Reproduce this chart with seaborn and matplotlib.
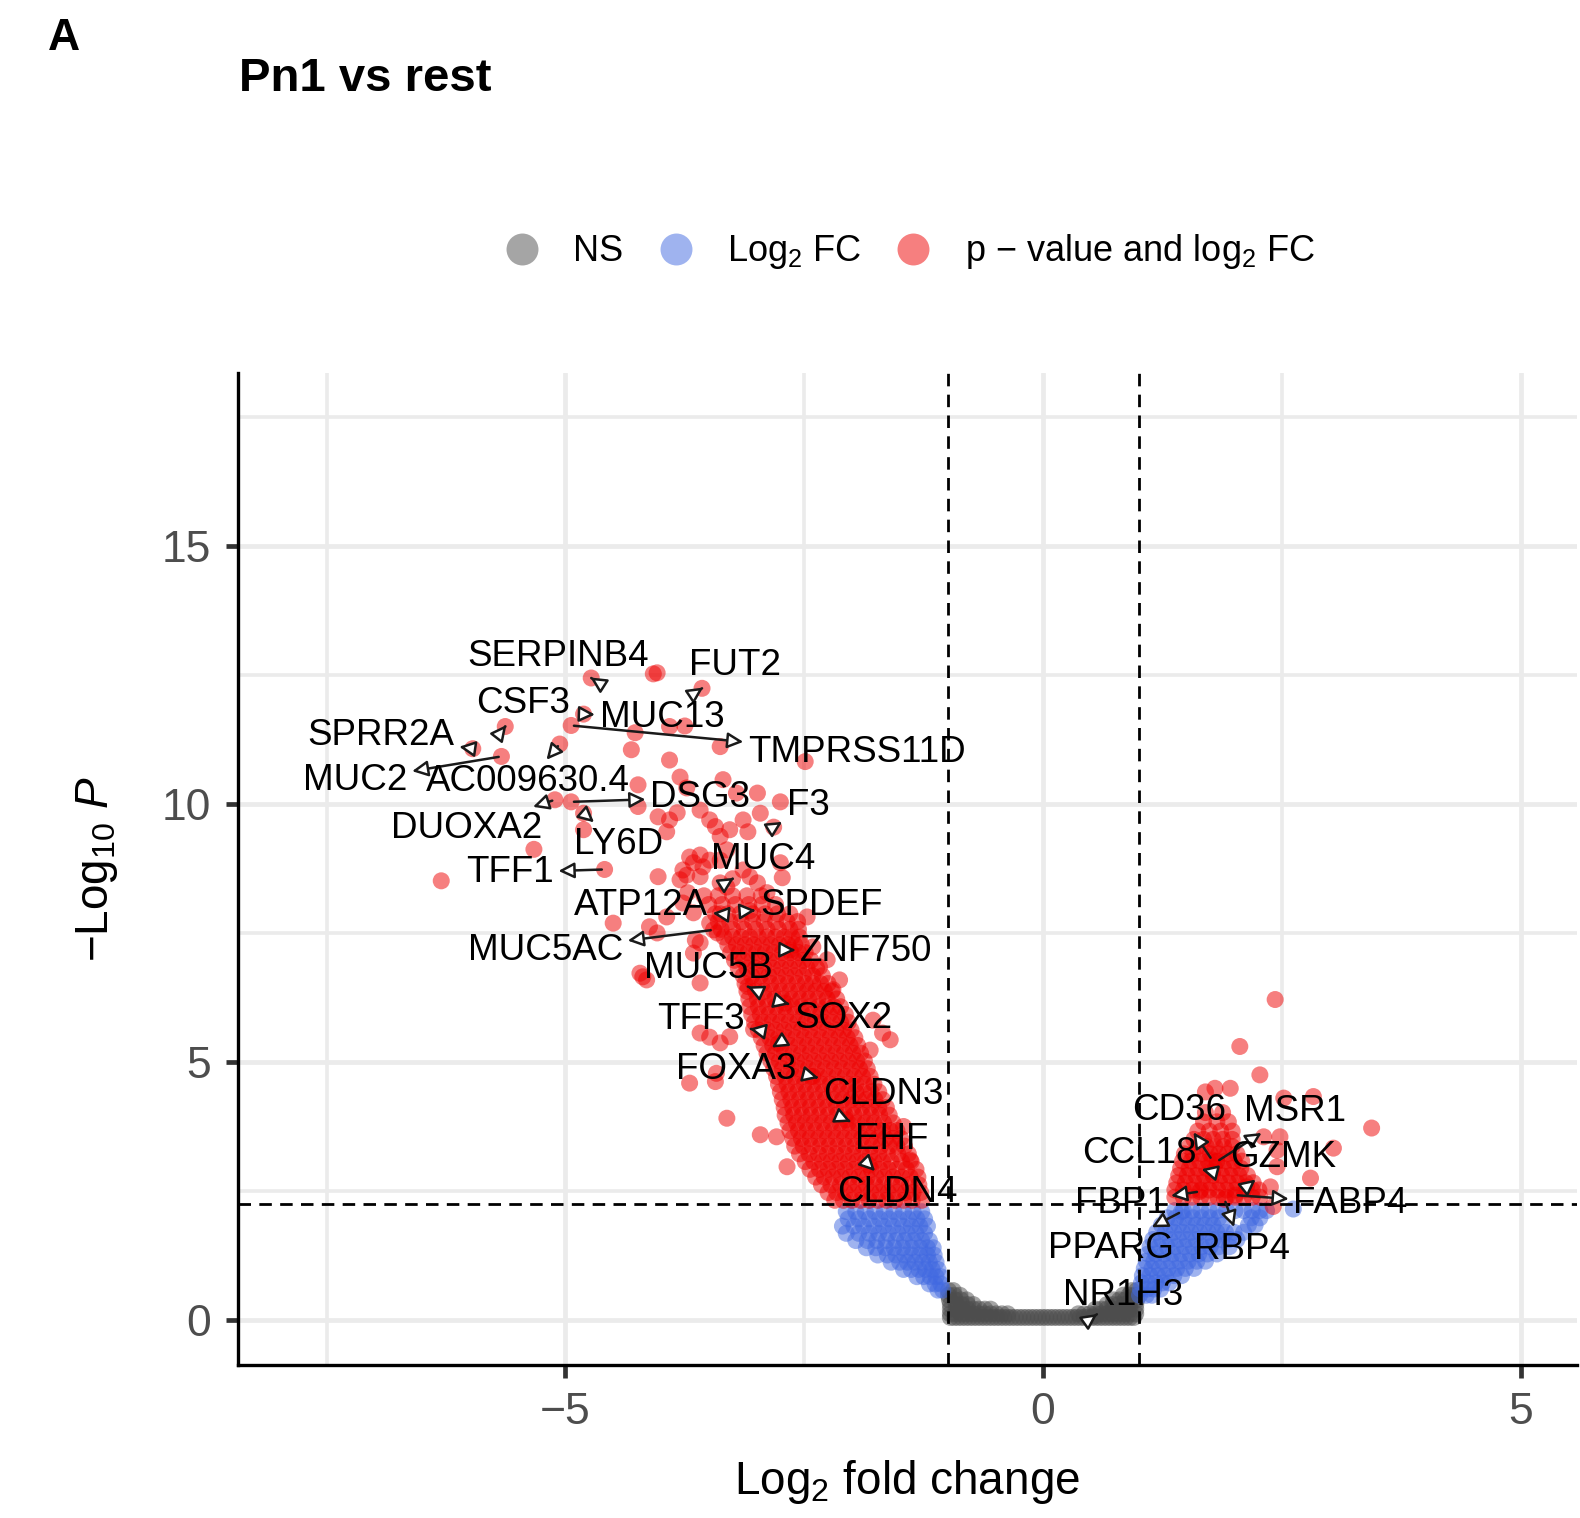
import matplotlib
matplotlib.use("Agg")
import matplotlib.pyplot as plt
import seaborn as sns
import pandas as pd
from matplotlib.lines import Line2D

# ---------------- data ----------------
# NS points (grey)
ns_rows_y = [0.05, 0.12, 0.21, 0.30, 0.39, 0.48, 0.57]
ns_rows_x = [
    [-0.97, -0.93, -0.89, -0.85, -0.81, -0.77, -0.73, -0.69, -0.65, -0.61, -0.57, -0.53, -0.49,
     -0.45, -0.41, -0.37, -0.33, -0.29, -0.25, -0.21, -0.17, -0.13, -0.09, -0.05, -0.01, 0.03,
     0.07, 0.11, 0.15, 0.19, 0.23, 0.27, 0.31, 0.35, 0.39, 0.43, 0.47, 0.51, 0.55, 0.59, 0.63,
     0.67, 0.71, 0.75, 0.79, 0.83, 0.87, 0.91, 0.95],
    [-0.97, -0.91, -0.85, -0.79, -0.73, -0.67, -0.61, -0.55, -0.49, -0.43, -0.37,
     0.37, 0.43, 0.49, 0.55, 0.61, 0.67, 0.73, 0.79, 0.85, 0.91, 0.97],
    [-0.97, -0.91, -0.85, -0.79, -0.73, -0.67, -0.61, -0.55,
     0.55, 0.61, 0.67, 0.73, 0.79, 0.85, 0.91, 0.97],
    [-0.97, -0.91, -0.85, -0.79, -0.73, 0.67, 0.73, 0.79, 0.85, 0.91, 0.97],
    [-0.98, -0.92, -0.86, -0.80, 0.74, 0.80, 0.86, 0.92, 0.98],
    [-0.99, -0.93, -0.87, 0.84, 0.90, 0.96],
    [-0.99, -0.94, 0.93, 0.98],
]

# Log2 FC only points (blue)
fc_left_rows_y = [2.10, 1.96, 1.82, 1.68, 1.54, 1.40, 1.26, 1.12, 0.98, 0.84, 0.70, 0.58]
fc_left_rows_x = [
    [-2.06, -1.96, -1.86, -1.76, -1.66, -1.56, -1.46, -1.36, -1.27],
    [-2.04, -1.93, -1.82, -1.71, -1.61, -1.51, -1.41, -1.32, -1.24],
    [-2.10, -1.98, -1.88, -1.77, -1.67, -1.57, -1.47, -1.38, -1.29, -1.21],
    [-2.06, -1.93, -1.82, -1.72, -1.62, -1.52, -1.42, -1.33, -1.24],
    [-1.96, -1.84, -1.74, -1.64, -1.54, -1.45, -1.36, -1.27, -1.19],
    [-1.85, -1.75, -1.65, -1.56, -1.47, -1.38, -1.29, -1.21, -1.15],
    [-1.73, -1.63, -1.54, -1.45, -1.37, -1.29, -1.21, -1.14],
    [-1.59, -1.50, -1.42, -1.34, -1.26, -1.19, -1.12],
    [-1.46, -1.38, -1.30, -1.23, -1.16, -1.10],
    [-1.32, -1.25, -1.18, -1.12, -1.07],
    [-1.19, -1.13, -1.07],
    [-1.10, -1.05],
]
fc_right_rows_y = [2.12, 1.98, 1.84, 1.70, 1.56, 1.42, 1.28, 1.14, 1.00, 0.86, 0.72, 0.60, 0.48]
fc_right_rows_x = [
    [1.38, 1.47, 1.56, 1.65, 1.74, 1.83, 1.92, 2.01, 2.10, 2.19, 2.27, 2.34],
    [1.30, 1.39, 1.48, 1.57, 1.66, 1.75, 1.84, 2.18, 2.27],
    [1.24, 1.33, 1.42, 1.51, 1.60, 1.69, 1.78, 1.87, 2.15, 2.22],
    [1.19, 1.28, 1.37, 1.46, 1.55, 1.64, 1.73, 1.82, 1.91, 2.00, 2.10],
    [1.15, 1.24, 1.33, 1.42, 1.51, 1.60, 1.69, 1.78, 1.87, 1.95, 2.03],
    [1.12, 1.21, 1.30, 1.39, 1.48, 1.57, 1.66, 1.75, 1.84, 1.95],
    [1.10, 1.18, 1.27, 1.36, 1.45, 1.54, 1.63, 1.72, 1.82],
    [1.08, 1.16, 1.25, 1.34, 1.43, 1.52, 1.61, 1.70],
    [1.06, 1.14, 1.22, 1.31, 1.40, 1.49, 1.58],
    [1.04, 1.12, 1.20, 1.28, 1.37, 1.45],
    [1.03, 1.10, 1.18, 1.25, 1.32],
    [1.02, 1.09, 1.16, 1.23],
    [1.01, 1.08, 1.14],
]
fc_extra_x = [2.62]
fc_extra_y = [2.15]

# p-value and log2 FC points (red)
sig_left_rows_y = [2.32, 2.47, 2.62, 2.77, 2.92, 3.07, 3.22, 3.37, 3.52, 3.67, 3.82, 3.97,
                   4.12, 4.27, 4.42, 4.57, 4.72, 4.87, 5.02, 5.17, 5.32, 5.47, 5.62, 5.77,
                   5.92, 6.07, 6.22, 6.37, 6.52, 6.67, 6.82, 6.97, 7.12, 7.27, 7.42, 7.57,
                   7.72, 7.87, 8.05, 8.22]
sig_left_rows_x = [
    [-2.18, -2.09, -2.00, -1.91, -1.82, -1.73, -1.64, -1.55, -1.46, -1.37, -1.27],
    [-2.25, -2.16, -2.07, -1.98, -1.89, -1.80, -1.71, -1.62, -1.53, -1.44, -1.36, -1.28],
    [-2.32, -2.22, -2.12, -2.03, -1.94, -1.85, -1.76, -1.67, -1.58, -1.49, -1.40, -1.30],
    [-2.38, -2.29, -2.20, -2.11, -2.02, -1.93, -1.84, -1.75, -1.66, -1.57, -1.48, -1.39, -1.31],
    [-2.44, -2.34, -2.25, -2.16, -2.07, -1.98, -1.89, -1.80, -1.71, -1.62, -1.53, -1.43, -1.33],
    [-2.49, -2.40, -2.31, -2.22, -2.13, -2.04, -1.95, -1.86, -1.77, -1.68, -1.59, -1.48, -1.38],
    [-2.55, -2.45, -2.35, -2.26, -2.17, -2.08, -1.99, -1.90, -1.81, -1.72, -1.63, -1.52, -1.41],
    [-2.60, -2.51, -2.42, -2.33, -2.24, -2.15, -2.06, -1.97, -1.88, -1.79, -1.70, -1.61, -1.53, -1.45],
    [-2.62, -2.53, -2.44, -2.35, -2.26, -2.17, -2.08, -1.99, -1.90, -1.81, -1.73, -1.65, -1.57, -1.49],
    [-2.65, -2.56, -2.47, -2.38, -2.29, -2.20, -2.11, -2.02, -1.93, -1.84, -1.76, -1.68, -1.60, -1.53],
    [-2.67, -2.58, -2.49, -2.40, -2.31, -2.22, -2.13, -2.04, -1.95, -1.86, -1.77, -1.67, -1.57],
    [-2.70, -2.61, -2.52, -2.43, -2.34, -2.25, -2.16, -2.07, -1.98, -1.89, -1.80, -1.71, -1.61],
    [-2.71, -2.62, -2.53, -2.44, -2.35, -2.26, -2.17, -2.08, -1.99, -1.90, -1.81, -1.72, -1.64],
    [-2.73, -2.64, -2.55, -2.46, -2.37, -2.28, -2.19, -2.10, -2.01, -1.93, -1.85, -1.76, -1.68],
    [-2.75, -2.66, -2.57, -2.48, -2.39, -2.30, -2.21, -2.12, -2.04, -1.96, -1.88, -1.80, -1.72],
    [-2.77, -2.68, -2.59, -2.50, -2.41, -2.32, -2.23, -2.14, -2.05, -1.96, -1.87, -1.77],
    [-2.79, -2.70, -2.61, -2.52, -2.43, -2.34, -2.25, -2.16, -2.07, -1.98, -1.89, -1.81],
    [-2.82, -2.73, -2.64, -2.55, -2.46, -2.37, -2.28, -2.19, -2.10, -2.01, -1.92, -1.84],
    [-2.85, -2.76, -2.67, -2.58, -2.49, -2.40, -2.31, -2.22, -2.13, -2.04, -1.95, -1.87],
    [-2.89, -2.80, -2.71, -2.62, -2.53, -2.44, -2.35, -2.26, -2.17, -2.08, -1.99, -1.91],
    [-2.92, -2.83, -2.74, -2.65, -2.56, -2.47, -2.38, -2.29, -2.20, -2.11, -2.02, -1.94],
    [-2.95, -2.86, -2.77, -2.68, -2.59, -2.50, -2.41, -2.32, -2.23, -2.14, -2.05, -1.97],
    [-2.98, -2.89, -2.80, -2.71, -2.62, -2.53, -2.44, -2.35, -2.26, -2.17, -2.09, -2.01],
    [-3.02, -2.93, -2.84, -2.75, -2.66, -2.57, -2.48, -2.39, -2.30, -2.21, -2.12, -2.04],
    [-3.05, -2.96, -2.87, -2.78, -2.69, -2.60, -2.51, -2.42, -2.33, -2.24, -2.15, -2.07],
    [-3.07, -2.98, -2.89, -2.80, -2.71, -2.62, -2.53, -2.44, -2.35, -2.27, -2.19, -2.12],
    [-3.08, -2.99, -2.90, -2.81, -2.72, -2.63, -2.54, -2.45, -2.36, -2.26, -2.16],
    [-3.10, -3.01, -2.92, -2.83, -2.74, -2.65, -2.56, -2.47, -2.38, -2.29, -2.21],
    [-3.12, -3.03, -2.94, -2.85, -2.76, -2.67, -2.58, -2.49, -2.41, -2.33, -2.25],
    [-3.14, -3.05, -2.96, -2.87, -2.78, -2.69, -2.60, -2.51, -2.41, -2.31],
    [-3.19, -3.10, -3.01, -2.92, -2.83, -2.74, -2.65, -2.56, -2.47, -2.37],
    [-3.23, -3.14, -3.05, -2.96, -2.87, -2.78, -2.69, -2.60, -2.51, -2.43],
    [-3.27, -3.18, -3.09, -3.00, -2.91, -2.82, -2.73, -2.64, -2.56, -2.49],
    [-3.30, -3.21, -3.12, -3.03, -2.94, -2.85, -2.76, -2.67, -2.60, -2.53],
    [-3.34, -3.25, -3.16, -3.07, -2.98, -2.89, -2.80, -2.71, -2.63, -2.55],
    [-3.37, -3.25, -3.13, -3.01, -2.89, -2.77, -2.65, -2.56],
    [-3.40, -3.28, -3.16, -3.04, -2.92, -2.80, -2.68, -2.57],
    [-3.43, -3.30, -3.17, -3.04, -2.91, -2.78, -2.65],
    [-3.50, -3.36, -3.22, -3.08, -2.94, -2.80],
    [-3.55, -3.40, -3.25, -3.10, -2.95],
]
sig_right_rows_y = [2.38, 2.52, 2.66, 2.80, 2.94, 3.08, 3.22, 3.36, 3.50, 3.66, 3.84, 4.02]
sig_right_rows_x = [
    [1.38, 1.47, 1.56, 1.65, 1.74, 1.83, 1.92, 2.01, 2.10, 2.19, 2.27],
    [1.38, 1.47, 1.56, 1.65, 1.74, 1.83, 1.92, 2.01, 2.10, 2.19, 2.26],
    [1.40, 1.49, 1.58, 1.67, 1.76, 1.85, 1.94, 2.03, 2.12, 2.20],
    [1.42, 1.51, 1.60, 1.69, 1.78, 1.87, 1.96, 2.05, 2.14],
    [1.44, 1.53, 1.62, 1.71, 1.80, 1.89, 1.98, 2.07],
    [1.46, 1.55, 1.64, 1.73, 1.82, 1.91, 2.00, 2.08],
    [1.48, 1.57, 1.66, 1.75, 1.84, 1.93, 2.03],
    [1.53, 1.62, 1.71, 1.80, 1.89, 1.98],
    [1.58, 1.68, 1.78, 1.88, 1.98],
    [1.62, 1.74, 1.86, 1.98],
    [1.68, 1.82, 1.94],
    [1.70, 1.88],
]
sig_extra_x = [-4.08, -4.04, -4.27, -3.91, -3.75, -4.31, -3.91, -3.38, -2.49, -3.35, -3.21,
               -4.24, -3.80, -3.73, -4.24, -4.03, -3.91, -3.83, -3.59, -3.49, -2.99, -2.75,
               -3.14, -3.09, -3.28, -3.94, -4.81, -5.33, -6.30, -3.43, -3.38, -2.96,
               -3.70, -3.59, -3.77, -3.66, -3.56, -3.49, -3.73, -3.59, -3.80, -4.03, -3.31,
               -3.38, -3.14, -2.99, -3.07, -2.75, -2.73, -2.89, -3.38, -3.31, -3.77, -3.66,
               -3.72, -3.94, -4.12, -4.50, -4.19, -4.22, -3.59, -3.66, -3.41, -3.49, -2.47,
               -2.41, -2.26, -2.34, -2.13, -2.20, -1.68, -1.60, -3.59, -3.49, -3.38, -4.04,
               -3.64, -3.59, -3.70, -3.43, -3.31, -2.96, -2.79, -2.68, -3.42, -4.15, -1.81,
               -1.78, -1.39, -1.46, -3.28,
               2.06, 2.27, 1.70, 1.80, 1.96, 2.52, 2.83, 3.44, 3.04, 2.80, 2.45, 2.41, 2.31,
               2.43, 2.48, 2.45, 2.38]
sig_extra_y = [12.52, 12.54, 11.38, 11.50, 11.51, 11.05, 10.85, 11.11, 10.82, 10.47, 10.21,
               10.37, 10.52, 10.31, 9.95, 9.75, 9.69, 9.83, 9.88, 9.69, 10.21, 10.04,
               9.69, 9.46, 9.50, 9.46, 9.50, 9.12, 8.51, 9.56, 9.37, 9.82,
               8.97, 9.01, 8.72, 8.86, 8.78, 8.91, 8.62, 8.59, 8.53, 8.59, 9.11,
               8.91, 8.72, 8.47, 8.59, 8.86, 8.57, 8.28, 8.47, 8.39, 8.08, 7.89,
               8.28, 7.81, 7.62, 7.69, 6.65, 6.72, 7.31, 7.11, 7.50, 7.69, 7.81,
               7.23, 6.98, 6.84, 6.59, 6.40, 5.56, 5.43, 5.56, 5.48, 5.37, 7.50,
               7.36, 6.53, 4.59, 4.62, 3.91, 3.59, 3.55, 2.97, 4.78, 6.59, 5.23,
               5.81, 3.10, 3.75, 5.49,
               5.30, 4.75, 4.42, 4.49, 4.49, 4.30, 4.33, 3.72, 3.33, 2.75, 2.97, 2.20, 3.55,
               6.21, 3.55, 3.29, 2.58]

# labelled genes
genes = ["SERPINB4", "FUT2", "CSF3", "MUC13", "TMPRSS11D", "SPRR2A", "MUC2", "AC009630.4",
         "DSG3", "DUOXA2", "LY6D", "TFF1", "F3", "MUC4", "ATP12A", "SPDEF", "MUC5AC",
         "ZNF750", "MUC5B", "SOX2", "TFF3", "FOXA3", "CLDN3", "EHF", "CLDN4",
         "CD36", "MSR1", "CCL18", "GZMK", "FBP1", "FABP4", "PPARG", "RBP4", "NR1H3"]
gene_x = [-4.73, -3.57, -5.63, -4.81, -4.94, -5.97, -5.67, -5.06, -4.94, -5.11, -4.81, -4.59,
          -2.82, -3.25, -3.38, -3.07, -3.45, -2.65, -3.09, -2.70, -3.03, -2.77, -2.41, -2.06,
          -1.82, 1.77, 1.82, 1.77, 2.13, 1.64, 2.01, 1.45, 1.90, 0.54]
gene_y = [12.44, 12.24, 11.50, 11.74, 11.52, 11.07, 10.92, 11.16, 10.04, 10.08, 9.82, 8.73,
          9.55, 8.55, 7.87, 7.93, 7.56, 7.17, 6.46, 6.14, 5.63, 5.36, 4.72, 3.88,
          3.00, 3.10, 3.07, 2.87, 2.58, 2.49, 2.42, 2.10, 2.34, 0.08]
gene_group = ["sig"] * 31 + ["fc", "sig", "ns"]

# ---------------- layout (label placement) ----------------
label_pos = {
    "SERPINB4": (-5.08, 12.93), "FUT2": (-3.22, 12.75), "CSF3": (-5.44, 12.03),
    "MUC13": (-3.99, 11.76), "TMPRSS11D": (-1.95, 11.07), "SPRR2A": (-6.93, 11.41),
    "MUC2": (-7.20, 10.53), "AC009630.4": (-5.39, 10.51), "DSG3": (-3.59, 10.20),
    "DUOXA2": (-6.03, 9.61), "LY6D": (-4.44, 9.30), "TFF1": (-5.58, 8.75),
    "F3": (-2.46, 10.04), "MUC4": (-2.93, 9.00), "ATP12A": (-4.21, 8.11),
    "SPDEF": (-2.32, 8.11), "MUC5AC": (-5.21, 7.23), "ZNF750": (-1.85, 7.21),
    "MUC5B": (-3.50, 6.88), "SOX2": (-2.09, 5.92), "TFF3": (-3.58, 5.90),
    "FOXA3": (-3.21, 4.94), "CLDN3": (-1.67, 4.45), "EHF": (-1.58, 3.57),
    "CLDN4": (-1.53, 2.54), "CD36": (1.42, 4.14), "MSR1": (2.64, 4.12),
    "CCL18": (1.01, 3.30), "GZMK": (2.51, 3.22), "FBP1": (0.81, 2.34),
    "FABP4": (3.22, 2.34), "PPARG": (0.71, 1.46), "RBP4": (2.08, 1.45),
    "NR1H3": (0.84, 0.55),
}


def rows_to_points(rows_y, rows_x):
    xs, ys = [], []
    for yv, xr in zip(rows_y, rows_x):
        xs.extend(xr)
        ys.extend([yv] * len(xr))
    return xs, ys


parts = []
for grp, (xs, ys) in [
    ("ns", rows_to_points(ns_rows_y, ns_rows_x)),
    ("fc", rows_to_points(fc_left_rows_y, fc_left_rows_x)),
    ("fc", rows_to_points(fc_right_rows_y, fc_right_rows_x)),
    ("fc", (fc_extra_x, fc_extra_y)),
    ("sig", rows_to_points(sig_left_rows_y, sig_left_rows_x)),
    ("sig", rows_to_points(sig_right_rows_y, sig_right_rows_x)),
    ("sig", (sig_extra_x, sig_extra_y)),
]:
    parts.append(pd.DataFrame({"log2FC": xs, "nlogP": ys, "group": grp}))
parts.append(pd.DataFrame({"log2FC": gene_x, "nlogP": gene_y, "group": gene_group}))
df = pd.concat(parts, ignore_index=True)
order = {"ns": 0, "fc": 1, "sig": 2}
df = df.iloc[df["group"].map(order).argsort(kind="stable")].reset_index(drop=True)

# ---------------- style ----------------
sns.set_theme(style="white")
plt.rcParams["font.family"] = ["Liberation Sans", "DejaVu Sans"]
plt.rcParams["text.color"] = "black"
plt.rcParams["axes.labelcolor"] = "black"
plt.rcParams["mathtext.fontset"] = "custom"
plt.rcParams["mathtext.rm"] = "Liberation Sans"
plt.rcParams["mathtext.it"] = "Liberation Sans:italic"
plt.rcParams["mathtext.bf"] = "Liberation Sans:bold"
plt.rcParams["mathtext.default"] = "regular"

palette = {"ns": "#4D4D4D", "fc": "#4169E1", "sig": "#EE0000"}

fig = plt.figure(figsize=(15.8, 15.18), dpi=100)
fig.patch.set_facecolor("white")
ax = fig.add_axes([0.1505, 0.1005, 0.8476, 0.6538])
ax.set_facecolor("white")

sns.scatterplot(data=df, x="log2FC", y="nlogP", hue="group", palette=palette,
                s=150, alpha=0.5, linewidth=0, legend=False, ax=ax, zorder=3)

ax.set_xlim(-8.43, 5.59)
ax.set_ylim(-0.88, 18.35)
ax.set_xticks([-5, 0, 5])
ax.set_xticks([-7.5, -2.5, 2.5], minor=True)
ax.set_yticks([0, 5, 10, 15])
ax.set_yticks([2.5, 7.5, 12.5, 17.5], minor=True)
ax.grid(which="major", color="#EBEBEB", lw=3.4)
ax.grid(which="minor", color="#EBEBEB", lw=2.6)
ax.set_axisbelow(True)

for s in ["top", "right"]:
    ax.spines[s].set_visible(False)
for s in ["left", "bottom"]:
    ax.spines[s].set_color("black")
    ax.spines[s].set_linewidth(2.4)

ax.tick_params(axis="both", which="major", length=9, width=3.4, color="#333333",
               labelsize=32, labelcolor="#4D4D4D", pad=10, direction="out",
               left=True, bottom=True)
ax.tick_params(axis="both", which="minor", length=0)

dash = (0, (4.5, 3.0))
for xv in (-1, 1):
    ax.axvline(xv, color="black", lw=2.0, linestyle=dash, zorder=4)
ax.axhline(2.24, color="black", lw=2.0, linestyle=dash, zorder=4)

ax.set_xlabel("Log$_{2}$ fold change", fontsize=33, color="black")
ax.set_ylabel("\u2212Log$_{10}$ $\\mathit{P}$", fontsize=33, color="black")
ax.xaxis.set_label_coords(0.5, -0.093)
ax.yaxis.set_label_coords(-0.088, 0.5)

# gene labels with connectors: segment runs from the gene toward the label centre,
# stopping where it meets the label box (as ggrepel does)
renderer = fig.canvas.get_renderer()
label_fs = 26.5
for name, gx, gy in zip(genes, gene_x, gene_y):
    lx, ly = label_pos[name]
    probe = ax.text(lx, ly, name, fontsize=label_fs, ha="center", va="center_baseline")
    bb = probe.get_window_extent(renderer)
    probe.remove()
    px, py = ax.transData.transform((gx, gy))
    cx, cy = (bb.x0 + bb.x1) / 2, (bb.y0 + bb.y1) / 2
    dx, dy = px - cx, py - cy
    tx = (bb.width / 2) / abs(dx) if dx != 0 else float("inf")
    ty = (bb.height / 2) / abs(dy) if dy != 0 else float("inf")
    t = min(tx, ty)
    if t >= 1:
        ax.text(lx, ly, name, fontsize=label_fs, ha="center", va="center_baseline",
                color="black", zorder=10)
        continue
    ix, iy = cx + t * dx, cy + t * dy
    rx = (ix - bb.x0) / bb.width
    ry = (iy - bb.y0) / bb.height
    ax.annotate(name, xy=(gx, gy), xytext=(lx, ly), textcoords="data",
                fontsize=label_fs, ha="center", va="center_baseline", color="black",
                zorder=10, annotation_clip=False,
                arrowprops=dict(arrowstyle="<|-,head_length=0.36,head_width=0.18",
                                fc="white", ec="#1a1a1a", lw=1.8, relpos=(rx, ry),
                                shrinkA=1, shrinkB=2))

# legend
handles = [Line2D([], [], ls="", marker="o", markersize=23, markeredgewidth=0,
                  markerfacecolor=palette[k], alpha=0.5) for k in ("ns", "fc", "sig")]
labels = ["NS", "Log$_{2}$ FC", "p \u2212 value and log$_{2}$ FC"]
fig.legend(handles, labels, loc="center", bbox_to_anchor=(0.5757, 0.834), ncol=3,
           frameon=False, fontsize=26, handlelength=1.0, handletextpad=0.92,
           columnspacing=0.94, borderpad=0, borderaxespad=0)

fig.text(0.1511, 0.9403, "Pn1 vs rest", fontsize=34, fontweight="bold", color="black",
         ha="left", va="baseline")
fig.text(0.0306, 0.9668, "A", fontsize=32, fontweight="bold", color="black",
         ha="left", va="baseline")

fig.savefig("out.png", dpi=100, facecolor="white")
